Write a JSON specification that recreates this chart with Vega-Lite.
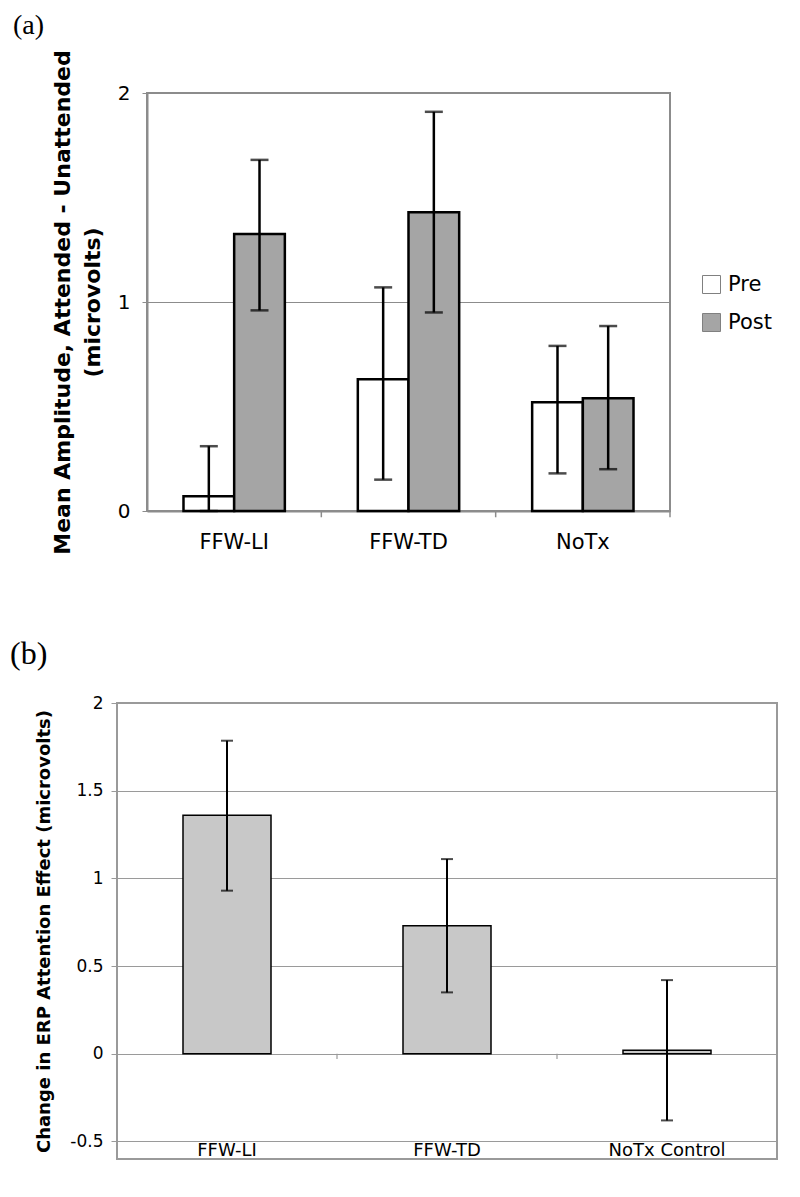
{
  "$schema": "https://vega.github.io/schema/vega-lite/v6.json",
  "background": "white",
  "padding": {"left": 9, "top": 10, "right": 5, "bottom": 5},
  "spacing": 81,
  "config": {
    "font": "DejaVu Sans",
    "axis": {"labelColor": "black", "titleColor": "black"},
    "title": {"color": "black"}
  },
  "vconcat": [
    {
      "hconcat": [
        {
          "width": 30,
          "height": 1,
          "view": {"stroke": null},
          "data": {"values": []},
          "mark": "point",
          "encoding": {}
        },
        {
          "title": {"text": "(a)", "anchor": "start", "frame": "group", "font": "Liberation Serif", "fontSize": 28, "fontWeight": "normal", "dx": -134, "offset": -18, "baseline": "bottom"},
          "width": 523,
          "height": 418,
          "view": {"stroke": "#8c8c8c", "strokeWidth": 2},
          "data": {"values": [
            {"cat": "FFW-LI", "phase": "Pre", "mean": 0.07, "lo": 0.0, "hi": 0.31},
            {"cat": "FFW-LI", "phase": "Post", "mean": 1.325, "lo": 0.96, "hi": 1.68},
            {"cat": "FFW-TD", "phase": "Pre", "mean": 0.63, "lo": 0.15, "hi": 1.07},
            {"cat": "FFW-TD", "phase": "Post", "mean": 1.43, "lo": 0.95, "hi": 1.91},
            {"cat": "NoTx", "phase": "Pre", "mean": 0.52, "lo": 0.18, "hi": 0.79},
            {"cat": "NoTx", "phase": "Post", "mean": 0.54, "lo": 0.2, "hi": 0.885}
          ]},
          "encoding": {
            "x": {"field": "cat", "type": "nominal", "scale": {"domain": ["FFW-LI", "FFW-TD", "NoTx"], "padding": 0},
              "axis": {"title": null, "labelAngle": 0, "ticks": false, "domain": true, "domainColor": "#8c8c8c", "domainWidth": 2, "labelFontSize": 21, "labelPadding": 20}}
          },
          "layer": [
            {
              "mark": {"type": "bar", "stroke": "black", "strokeWidth": 2.5},
              "encoding": {
                "xOffset": {"field": "phase", "type": "nominal", "scale": {"domain": ["Pre", "Post"], "paddingInner": 0, "paddingOuter": 0.72}},
                "y": {"field": "mean", "type": "quantitative", "scale": {"domain": [0, 2]},
                  "axis": {"values": [0, 1, 2], "labelExpr": "'' + datum.value", "grid": true, "gridColor": "#8c8c8c", "gridWidth": 1.2, "domainColor": "#8c8c8c", "domainWidth": 2, "tickColor": "#8c8c8c", "tickSize": 5, "labelFontSize": 20, "labelPadding": 12,
                    "title": ["Mean Amplitude, Attended - Unattended", "(microvolts)"], "titleFontSize": 22, "titleFontWeight": "bold", "titleLineHeight": 30, "titlePadding": 13}},
                "fill": {"field": "phase", "type": "nominal", "scale": {"domain": ["Pre", "Post"], "range": ["white", "#a5a5a5"]},
                  "legend": {"title": null, "orient": "none", "legendX": 584, "legendY": 181, "padding": 0, "symbolType": "square", "symbolSize": 324, "symbolStrokeColor": "#808080", "symbolStrokeWidth": 1, "labelFontSize": 21, "labelOffset": 6, "rowPadding": 15, "labelColor": "black"}}
              }
            },
            {
              "mark": {"type": "rule", "color": "black", "strokeWidth": 2.5},
              "encoding": {
                "xOffset": {"field": "phase", "type": "nominal"},
                "y": {"field": "lo", "type": "quantitative"},
                "y2": {"field": "hi"}
              }
            },
            {
              "mark": {"type": "tick", "color": "black", "thickness": 2.5, "size": 18, "orient": "horizontal"},
              "encoding": {
                "xOffset": {"field": "phase", "type": "nominal"},
                "y": {"field": "hi", "type": "quantitative"}
              }
            },
            {
              "mark": {"type": "tick", "color": "black", "thickness": 2.5, "size": 18, "orient": "horizontal"},
              "encoding": {
                "xOffset": {"field": "phase", "type": "nominal"},
                "y": {"field": "lo", "type": "quantitative"}
              }
            },
            {
              "data": {"values": [{"cat": "FFW-TD"}, {"cat": "NoTx"}]},
              "mark": {"type": "rule", "color": "#8c8c8c", "strokeWidth": 1.5},
              "encoding": {
                "x": {"field": "cat", "type": "nominal", "bandPosition": 0},
                "y": {"datum": 0},
                "y2": {"datum": -0.03}
              }
            },
            {
              "data": {"values": [{"cat": "NoTx"}]},
              "mark": {"type": "rule", "color": "#8c8c8c", "strokeWidth": 1.5},
              "encoding": {
                "x": {"field": "cat", "type": "nominal", "bandPosition": 1},
                "y": {"datum": 0},
                "y2": {"datum": -0.03}
              }
            }
          ]
        }
      ],
      "spacing": 0,
      "bounds": "flush"
    },
    {
      "title": {"text": "(b)", "anchor": "start", "frame": "group", "font": "Liberation Serif", "fontSize": 32, "fontWeight": "normal", "dx": -107, "offset": -9, "baseline": "bottom"},
      "width": 660,
      "height": 456,
      "view": {"stroke": "#9a9a9a", "strokeWidth": 2},
      "data": {"values": [
        {"cat": "FFW-LI", "change": 1.36, "lo": 0.93, "hi": 1.785},
        {"cat": "FFW-TD", "change": 0.73, "lo": 0.35, "hi": 1.11},
        {"cat": "NoTx Control", "change": 0.02, "lo": -0.38, "hi": 0.42}
      ]},
      "encoding": {
        "x": {"field": "cat", "type": "nominal", "scale": {"domain": ["FFW-LI", "FFW-TD", "NoTx Control"], "padding": 0},
          "axis": {"title": null, "labelAngle": 0, "ticks": false, "domain": false, "labelFontSize": 18, "labelPadding": -18}}
      },
      "layer": [
        {
          "mark": {"type": "rule", "color": "#9a9a9a", "strokeWidth": 1.2},
          "encoding": {"y": {"datum": 0}}
        },
        {
          "mark": {"type": "bar", "fill": "#c8c8c8", "stroke": "black", "strokeWidth": 1.5, "width": {"band": 0.4}},
          "encoding": {
            "y": {"field": "change", "type": "quantitative", "scale": {"domain": [-0.5, 2]},
              "axis": {"values": [-0.5, 0, 0.5, 1, 1.5, 2], "labelExpr": "'' + datum.value", "grid": true, "gridColor": "#9a9a9a", "gridWidth": 1, "domain": false, "tickColor": "#9a9a9a", "tickSize": 6, "labelFontSize": 17, "labelPadding": 8,
                "title": "Change in ERP Attention Effect (microvolts)", "titleFontSize": 18, "titleFontWeight": "bold", "titlePadding": 16}}
          }
        },
        {
          "mark": {"type": "rule", "color": "black", "strokeWidth": 2},
          "encoding": {
            "y": {"field": "lo", "type": "quantitative"},
            "y2": {"field": "hi"}
          }
        },
        {
          "mark": {"type": "tick", "color": "black", "thickness": 2, "size": 12, "orient": "horizontal"},
          "encoding": {"y": {"field": "hi", "type": "quantitative"}}
        },
        {
          "mark": {"type": "tick", "color": "black", "thickness": 2, "size": 12, "orient": "horizontal"},
          "encoding": {"y": {"field": "lo", "type": "quantitative"}}
        },
        {
          "data": {"values": [{"cat": "FFW-TD"}, {"cat": "NoTx Control"}]},
          "mark": {"type": "rule", "color": "#9a9a9a", "strokeWidth": 1.2},
          "encoding": {
            "x": {"field": "cat", "type": "nominal", "bandPosition": 0},
            "y": {"datum": 0},
            "y2": {"datum": -0.03}
          }
        },
        {
          "data": {"values": [{"cat": "NoTx Control"}]},
          "mark": {"type": "rule", "color": "#9a9a9a", "strokeWidth": 1.2},
          "encoding": {
            "x": {"field": "cat", "type": "nominal", "bandPosition": 1},
            "y": {"datum": 0},
            "y2": {"datum": -0.03}
          }
        }
      ]
    }
  ]
}
